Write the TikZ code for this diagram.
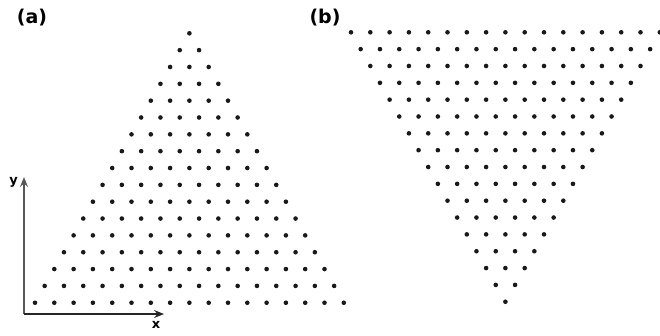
\documentclass[tikz,border=0pt]{standalone}
\usepackage{fontspec}
\setsansfont{DejaVu Sans}
\usepackage{tikz}
\usetikzlibrary{arrows.meta}

\begin{document}
\begin{tikzpicture}[
			x=1pt, y=-1pt,
			>={Stealth[length=10pt, width=8pt, inset=3.5pt]},
			ponto/.style={fill=black!90, draw=none},
			eixo/.style={->, line width=1.2pt, draw=black!65},
			rotulo/.style={font=\sffamily\bfseries\fontsize{19}{22}\selectfont},
			eixolab/.style={font=\sffamily\bfseries\fontsize{13}{15}\selectfont, inner sep=0pt}
		]
		\useasboundingbox (0,0) rectangle (660,335);

		% rotulos dos paineis
		\node[rotulo] (la) at (32,18) {(a)};
		\node[rotulo] (lb) at (325,18) {(b)};

		% (a) triangulo para cima
		\foreach \i in {0,...,16} {
				\foreach \j in {0,...,\i} {
						\fill[ponto] (189.4-\i*9.65+\j*19.3, 33.3+\i*16.84) circle (2.3pt);
					}
			}

		% (b) triangulo invertido
		\foreach \i in {0,...,16} {
				\pgfmathtruncatemacro{\n}{16-\i}
				\foreach \j in {0,...,\n} {
						\fill[ponto] (351+\i*9.65+\j*19.3, 32.3+\i*16.84) circle (2.3pt);
					}
			}

		% eixos
		\coordinate (orig) at (24,314);
		\coordinate (ytip) at (24,177);
		\coordinate (xtip) at (164,314);
		\draw[eixo] (orig) -- (ytip);
		\draw[eixo, draw=black!85] (orig) -- (xtip);
		\node[eixolab] (ly) at (13.5,182) {y};
		\node[eixolab] (lx) at (156,325) {x};
	\end{tikzpicture}
\end{document}
